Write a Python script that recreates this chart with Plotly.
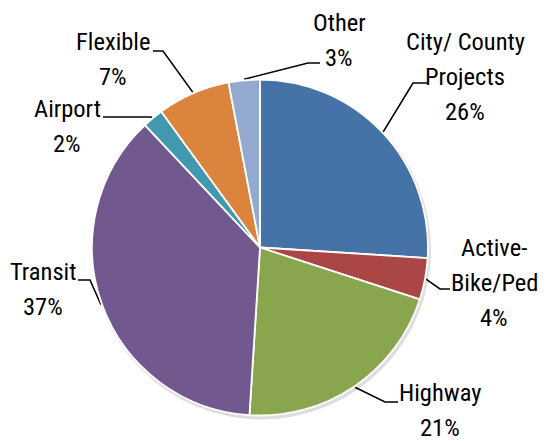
import math

import plotly.graph_objects as go

# slice data, clockwise from 12 o'clock
labels = ["City/ County<br>Projects", "Active-<br>Bike/Ped", "Highway", "Transit",
          "Airport", "Flexible", "Other"]
shares = [26, 4, 21, 37, 2, 7, 3]
colors = ["#4572A7", "#AA4643", "#89A54E", "#71588F", "#4198AF", "#DB843D", "#93A9CF"]

W, H = 546, 441
PAGE = 8                              # browser body margin, page px = figure px + 8
CX, CY, R = 260, 247.5, 168           # pie centre / radius in page px

# label layout in page px: text centre x / first line y, leader elbow, end of tick
label_xy = [(465, 41), (494, 247), (440, 392), (43, 271), (67, 108), (113, 41.5), (339, 22)]
elbow_xy = [(413, 83), (440, 289), (385, 402), (90, 280), (150, 117), (163, 51), (308, 63)]
tick_xy = [(427, 83), (450, 289), (398, 402), (78, 280), (103, 117), (153, 51), (320, 63)]
LINE_H = 35

FONT = "Roboto Condensed, Liberation Sans Narrow, DejaVu Sans Condensed, sans-serif"

fig = go.Figure()

# soft shadow behind the pie
fig.add_shape(type="circle", xref="x", yref="y", layer="below",
              x0=CX - R, x1=CX + R + 3, y0=CY - R + 1, y1=CY + R + 4,
              fillcolor="rgba(0,0,0,0.13)", line=dict(width=0))

fx, fy = CX - PAGE, CY - PAGE
fig.add_trace(go.Pie(
    labels=[l.replace("<br>", " ") for l in labels], values=shares,
    sort=False, direction="clockwise", rotation=0,
    marker=dict(colors=colors, line=dict(color="white", width=1.8)),
    textinfo="none", hoverinfo="label+percent", showlegend=False,
    domain=dict(x=[(fx - R) / W, (fx + R) / W], y=[1 - (fy + R) / H, 1 - (fy - R) / H]),
))

total = sum(shares)
cum = 0
for lab, v, (lx, ly), (ex, ey), (tx, ty) in zip(labels, shares, label_xy, elbow_xy, tick_xy):
    mid = 2 * math.pi * (cum + v / 2) / total
    cum += v
    px, py = CX + (R + 1) * math.sin(mid), CY - (R + 1) * math.cos(mid)
    fig.add_trace(go.Scatter(x=[px, ex, tx], y=[py, ey, ty], mode="lines",
                             line=dict(color="black", width=1.6),
                             hoverinfo="skip", showlegend=False))
    for i, line in enumerate(lab.split("<br>") + [f"{v}%"]):
        fig.add_annotation(x=lx, y=ly + i * LINE_H, xref="x", yref="y", showarrow=False,
                           text=line, xanchor="center", yanchor="middle",
                           font=dict(family=FONT, size=24.5, color="black"))

fig.update_xaxes(range=[PAGE, W + PAGE], visible=False, fixedrange=True, domain=[0, 1])
fig.update_yaxes(range=[H + PAGE, PAGE], visible=False, fixedrange=True, domain=[0, 1])
fig.update_layout(width=W, height=H, margin=dict(l=0, r=0, t=0, b=0),
                  paper_bgcolor="white", plot_bgcolor="rgba(0,0,0,0)",
                  showlegend=False)

fig.write_html("out.html")
